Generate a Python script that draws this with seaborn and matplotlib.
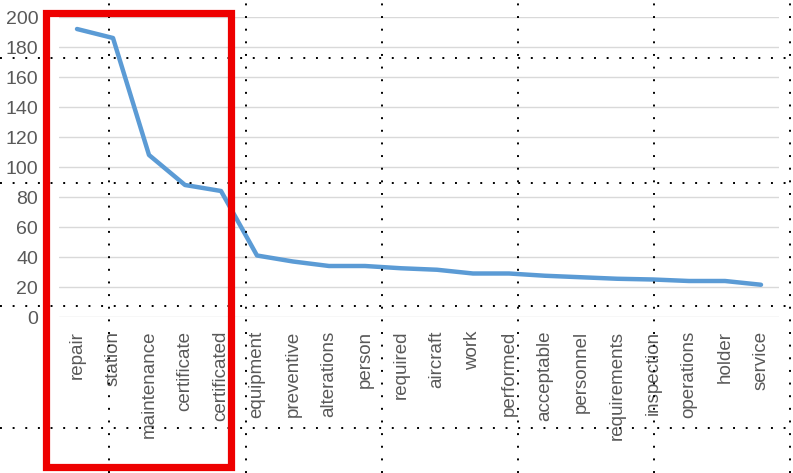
import matplotlib
matplotlib.use("Agg")
import matplotlib.pyplot as plt
import seaborn as sns
import pandas as pd
from matplotlib.lines import Line2D
from matplotlib.patches import Rectangle

words = ["repair", "station", "maintenance", "certificate", "certificated",
         "equipment", "preventive", "alterations", "person", "required",
         "aircraft", "work", "performed", "acceptable", "personnel",
         "requirements", "inspection", "operations", "holder", "service"]
counts = [192, 186, 108, 88, 84, 41, 37, 34, 34, 32.5,
          31.5, 29, 29, 27.5, 26.5, 25.5, 25, 24, 24, 21.5]
yticks = [0, 20, 40, 60, 80, 100, 120, 140, 160, 180, 200]

df = pd.DataFrame({"word": words, "count": counts})

sns.set_style("white")
plt.rcParams['font.family'] = ['Liberation Sans', 'DejaVu Sans']

W, H = 793, 473
fig = plt.figure(figsize=(W / 100, H / 100), dpi=100)
ax = fig.add_axes([59 / W, 1 - 317 / H, 720 / W, 300 / H])

sns.lineplot(data=df, x="word", y="count", ax=ax, sort=False,
             color="#5B9BD5", linewidth=3.2, zorder=3)

ax.set_xlim(-0.5, len(words) - 0.5)
ax.set_ylim(0, 200)
ax.set_yticks(yticks)
ax.set_yticklabels([str(t) for t in yticks], fontsize=14, color="#595959")
ax.set_xticks(range(len(words)))
ax.set_xticklabels(words, rotation=90, fontsize=13.5, color="#595959",
                   ha="center", va="top")
ax.tick_params(axis="both", length=0)
ax.tick_params(axis="x", pad=10)
ax.tick_params(axis="y", pad=15)
ax.grid(axis="y", color="#D9D9D9", linewidth=1)
ax.set_axisbelow(True)
ax.set_xlabel("")
ax.set_ylabel("")
for s in ax.spines.values():
    s.set_visible(False)

# spreadsheet cell borders (dotted) behind the highlight box
dots = dict(color="black", linewidth=1.4, linestyle=(0, (1, 5.5)),
            transform=fig.transFigure, zorder=5)
for xp in [109, 246, 382, 518, 654, 790]:
    fig.add_artist(Line2D([xp / W, xp / W], [0, 1], **dots))
for yp in [58, 183, 306, 428]:
    fig.add_artist(Line2D([0, 1], [1 - yp / H, 1 - yp / H], **dots))

# red highlight box
fig.add_artist(Rectangle((46 / W, 1 - 466.5 / H), 185 / W, 453 / H,
                         transform=fig.transFigure, fill=False,
                         edgecolor="#EE0000", linewidth=5.2, zorder=6))

fig.savefig("out.png", dpi=100)
